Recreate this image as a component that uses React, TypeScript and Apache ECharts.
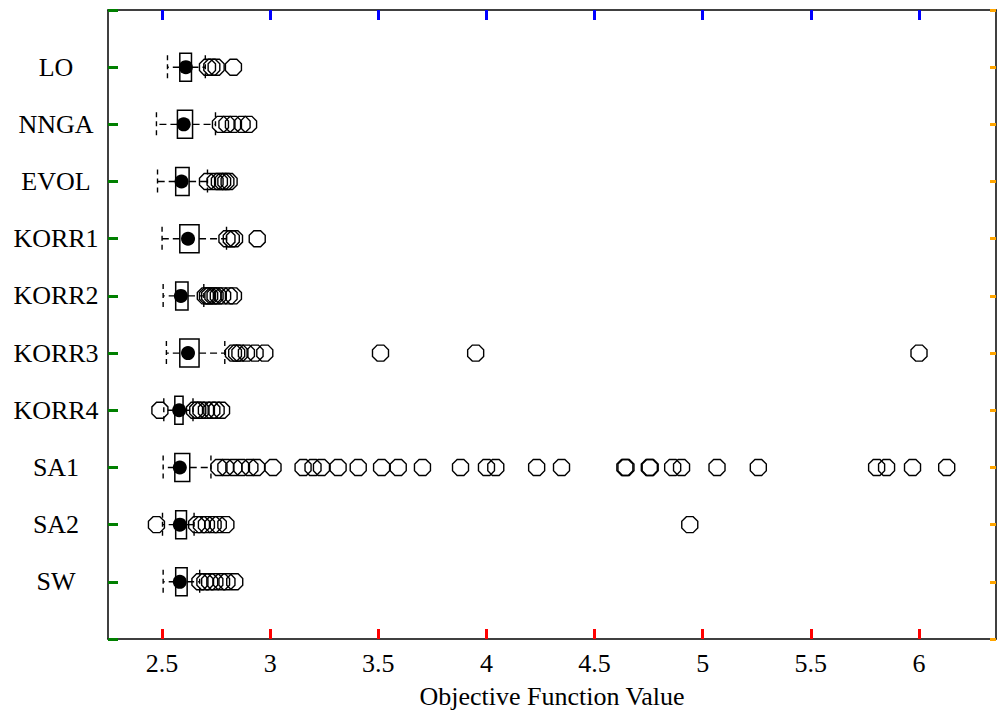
import React, { useEffect, useRef } from "react";
import * as echarts from "echarts";

const categories = ["LO", "NNGA", "EVOL", "KORR1", "KORR2", "KORR3", "KORR4", "SA1", "SA2", "SW"];
const whiskerLow = [2.525, 2.474, 2.479, 2.5, 2.505, 2.52, 2.508, 2.505, 2.502, 2.505];
const q1 = [2.582, 2.571, 2.563, 2.582, 2.563, 2.582, 2.559, 2.559, 2.563, 2.563];
const medians = [2.61, 2.6, 2.59, 2.62, 2.587, 2.62, 2.579, 2.582, 2.582, 2.582];
const q3 = [2.636, 2.641, 2.625, 2.671, 2.62, 2.671, 2.597, 2.628, 2.613, 2.616];
const whiskerHigh = [2.7, 2.747, 2.71, 2.798, 2.693, 2.79, 2.643, 2.726, 2.648, 2.674];

const outliersLO = [2.71, 2.73, 2.75, 2.83];
const outliersNNGA = [2.77, 2.8, 2.83, 2.87, 2.9];
const outliersEVOL = [2.71, 2.745, 2.765, 2.78, 2.795, 2.81];
const outliersKORR1 = [2.8, 2.82, 2.835, 2.94];
const outliersKORR2 = [2.7, 2.71, 2.72, 2.735, 2.745, 2.76, 2.78, 2.81, 2.83];
const outliersKORR3 = [2.83, 2.845, 2.86, 2.89, 2.93, 2.975, 3.51, 3.95, 6.0];
const outliersKORR4 = [2.49, 2.65, 2.665, 2.68, 2.705, 2.73, 2.75, 2.775];
const outliersSA1 = [
  2.763, 2.795, 2.832, 2.867, 2.906, 2.937, 3.013, 3.152, 3.198, 3.237, 3.314, 3.407, 3.515, 3.592,
  3.704, 3.88, 4.0, 4.043, 4.232, 4.347, 4.64, 4.645, 4.753, 4.757, 4.861, 4.902, 5.066, 5.257,
  5.804, 5.85, 5.97, 6.128,
];
const outliersSA2 = [2.474, 2.66, 2.682, 2.705, 2.736, 2.76, 2.795, 4.94];
const outliersSW = [2.675, 2.698, 2.72, 2.744, 2.775, 2.8, 2.836];

const outlierLists = [
  outliersLO, outliersNNGA, outliersEVOL, outliersKORR1, outliersKORR2,
  outliersKORR3, outliersKORR4, outliersSA1, outliersSA2, outliersSW,
];

const xTicks = [2.5, 3, 3.5, 4, 4.5, 5, 5.5, 6];
const yTicks = [0, 1, 2, 3, 4, 5, 6, 7, 8, 9];
const X_MIN = 2.25;
const X_MAX = 6.356;
const Y_MIN = -1;
const Y_MAX = 10;

const FONT = "Liberation Serif, Times New Roman, serif";
const OCTAGON = "path://M29,0 L71,0 L100,29 L100,71 L71,100 L29,100 L0,71 L0,29 Z";

export default function App() {
  const ref = useRef<HTMLDivElement>(null);

  useEffect(() => {
    document.body.style.margin = "0";
    if (!ref.current) return;
    const chart = echarts.init(ref.current, null, { renderer: "svg" });

    const boxData = categories.map((_, i) => [i, whiskerLow[i], q1[i], medians[i], q3[i], whiskerHigh[i]]);
    const medianData = categories.map((_, i) => [medians[i], i]);
    const outlierData: number[][] = [];
    outlierLists.forEach((list, i) => list.forEach((v) => outlierData.push([v, i])));

    const axisLineStyle = { color: "#000", width: 1.5 };

    chart.setOption({
      animation: false,
      grid: { left: 108, right: 1, top: 10, bottom: 76, containLabel: false },
      xAxis: [
        {
          type: "value",
          min: X_MIN,
          max: X_MAX,
          position: "bottom",
          axisLine: { show: true, onZero: false, lineStyle: axisLineStyle },
          axisTick: { show: true, inside: true, length: 10, customValues: xTicks, lineStyle: { color: "red", width: 3 } },
          axisLabel: {
            show: true,
            customValues: xTicks,
            margin: 11,
            color: "#000",
            fontFamily: FONT,
            fontSize: 26,
            formatter: (v: number) => String(v),
          },
          splitLine: { show: false },
          name: "Objective Function Value",
          nameLocation: "middle",
          nameGap: 44,
          nameTextStyle: { color: "#000", fontFamily: FONT, fontSize: 26 },
        },
        {
          type: "value",
          min: X_MIN,
          max: X_MAX,
          position: "top",
          axisLine: { show: true, onZero: false, lineStyle: axisLineStyle },
          axisTick: { show: true, inside: true, length: 10, customValues: xTicks, lineStyle: { color: "blue", width: 3 } },
          axisLabel: { show: false },
          splitLine: { show: false },
        },
      ],
      yAxis: [
        {
          type: "value",
          min: Y_MIN,
          max: Y_MAX,
          interval: 1,
          inverse: true,
          position: "left",
          axisLine: { show: true, onZero: false, lineStyle: axisLineStyle },
          axisTick: { show: true, inside: true, length: 10, lineStyle: { color: "green", width: 3 } },
          axisLabel: {
            show: true,
            margin: 52,
            align: "center",
            color: "#000",
            fontFamily: FONT,
            fontSize: 26,
            formatter: (v: number) => categories[v] ?? "",
          },
          splitLine: { show: false },
        },
        {
          type: "value",
          min: Y_MIN,
          max: Y_MAX,
          interval: 1,
          inverse: true,
          position: "right",
          axisLine: { show: true, onZero: false, lineStyle: axisLineStyle },
          axisTick: { show: true, inside: true, length: 6, lineStyle: { color: "orange", width: 3 } },
          axisLabel: { show: false },
          splitLine: { show: false },
        },
      ],
      series: [
        {
          type: "custom",
          name: "boxes",
          xAxisIndex: 0,
          yAxisIndex: 0,
          z: 2,
          encode: { x: [1, 2, 3, 4, 5], y: 0 },
          data: boxData,
          renderItem: (params: any, api: any) => {
            const i = api.value(0);
            const lo = api.coord([api.value(1), i]);
            const b1 = api.coord([api.value(2), i]);
            const b3 = api.coord([api.value(4), i]);
            const hi = api.coord([api.value(5), i]);
            const y = lo[1];
            const boxH = 28;
            const capH = 24;
            return {
              type: "group",
              children: [
                {
                  type: "line",
                  shape: { x1: b1[0], y1: y, x2: lo[0], y2: y },
                  style: { stroke: "#000", lineWidth: 1.4, lineDash: [7, 4] },
                },
                {
                  type: "line",
                  shape: { x1: b3[0], y1: y, x2: hi[0], y2: y },
                  style: { stroke: "#000", lineWidth: 1.4, lineDash: [7, 4] },
                },
                {
                  type: "line",
                  shape: { x1: lo[0], y1: y - capH / 2, x2: lo[0], y2: y + capH / 2 },
                  style: { stroke: "#000", lineWidth: 1.4, lineDash: [5, 4] },
                },
                {
                  type: "line",
                  shape: { x1: hi[0], y1: y - capH / 2, x2: hi[0], y2: y + capH / 2 },
                  style: { stroke: "#000", lineWidth: 1.4, lineDash: [5, 4] },
                },
                {
                  type: "rect",
                  shape: { x: b1[0], y: y - boxH / 2, width: b3[0] - b1[0], height: boxH },
                  style: { stroke: "#000", lineWidth: 1.5, fill: "none" },
                },
              ],
            };
          },
        },
        {
          type: "scatter",
          name: "median",
          xAxisIndex: 0,
          yAxisIndex: 0,
          z: 3,
          symbol: "circle",
          symbolSize: 14,
          itemStyle: { color: "#000", opacity: 1 },
          emphasis: { disabled: true },
          data: medianData,
        },
        {
          type: "scatter",
          name: "outliers",
          xAxisIndex: 0,
          yAxisIndex: 0,
          z: 4,
          symbol: OCTAGON,
          symbolSize: 16,
          itemStyle: { color: "rgba(0,0,0,0)", borderColor: "#000", borderWidth: 1.4, opacity: 1 },
          emphasis: { disabled: true },
          data: outlierData,
        },
      ],
    });

    return () => {
      chart.dispose();
    };
  }, []);

  return (
    <div
      ref={ref}
      style={{ position: "fixed", left: 0, top: 0, width: 997, height: 715, background: "#fff" }}
    />
  );
}
